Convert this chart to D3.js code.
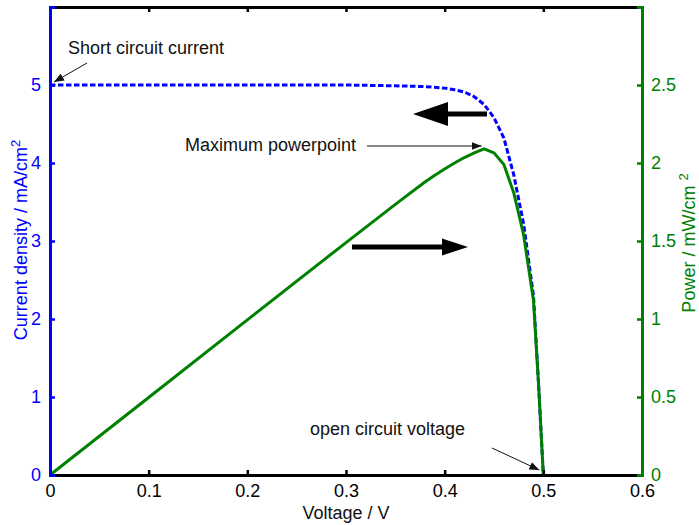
<!DOCTYPE html>
<html>
<head>
<meta charset="utf-8">
<script src="https://cdn.jsdelivr.net/npm/d3@7"></script>
<style>
  html, body { margin: 0; padding: 0; background: #fff; }
  svg { display: block; font-family: "Liberation Sans", Arial, Helvetica, sans-serif; }
</style>
</head>
<body>
<svg id="chart" width="699" height="525"></svg>
<script>
// Solar cell J-V and P-V characteristics
const voltage = [0, 0.1, 0.2, 0.3, 0.35, 0.38, 0.39, 0.4, 0.41, 0.42, 0.43, 0.44, 0.45, 0.46, 0.47, 0.48, 0.49, 0.495, 0.5];
const currentDensity = [5.0, 5.0, 5.0, 5.0, 4.99, 4.98, 4.97, 4.96, 4.94, 4.91, 4.85, 4.75, 4.58, 4.32, 3.85, 3.22, 2.3, 1.2, 0];
const power = [0, 0.497, 0.994, 1.49, 1.735, 1.878, 1.922, 1.962, 2.0, 2.035, 2.065, 2.09, 2.065, 1.99, 1.81, 1.54, 1.12, 0.6, 0];

const xTicks = [0, 0.1, 0.2, 0.3, 0.4, 0.5, 0.6];
const leftTicks = [0, 1, 2, 3, 4, 5];
const rightTicks = [0, 0.5, 1, 1.5, 2, 2.5];

const BLUE = "#0000ff", GREEN = "#008000", INK = "#111";
const FS = 18;
const svg = d3.select("#chart");

const plot = { left: 50, right: 642, top: 7, bottom: 475 };
const x = d3.scaleLinear().domain([0, 0.6]).range([plot.left, plot.right]);
const yL = d3.scaleLinear().domain([0, 6]).range([plot.bottom, plot.top]);
const yR = d3.scaleLinear().domain([0, 3]).range([plot.bottom, plot.top]);

// arrowhead marker for the thin annotation pointers
const defs = svg.append("defs");
defs.append("marker")
  .attr("id", "tip").attr("viewBox", "0 0 10 8").attr("refX", 10).attr("refY", 4)
  .attr("markerWidth", 10).attr("markerHeight", 8).attr("markerUnits", "userSpaceOnUse")
  .attr("orient", "auto")
  .append("path").attr("d", "M0,0 L10,4 L0,8 Z").attr("fill", INK);

// curves
const jLine = d3.line().x((d, i) => x(voltage[i])).y(d => yL(d));
const pLine = d3.line().x((d, i) => x(voltage[i])).y(d => yR(d));

svg.append("path").datum(currentDensity)
  .attr("d", jLine).attr("fill", "none").attr("stroke", BLUE)
  .attr("stroke-width", 3).attr("stroke-dasharray", "5.5,2.5");

svg.append("path").datum(power)
  .attr("d", pLine).attr("fill", "none").attr("stroke", GREEN)
  .attr("stroke-width", 3).attr("stroke-linejoin", "round");

// axes (ticks point inward)
const axBottom = d3.axisBottom(x).tickValues(xTicks).tickSize(-5).tickFormat(d3.format("~g")).tickPadding(9);
const axTop = d3.axisTop(x).tickValues(xTicks).tickSize(-5).tickFormat("");
const axLeft = d3.axisLeft(yL).tickValues(leftTicks).tickSize(-5).tickFormat(d3.format("d")).tickPadding(9);
const axRight = d3.axisRight(yR).tickValues(rightTicks).tickSize(-5).tickFormat(d3.format("~g")).tickPadding(9);

function styleAxis(g, color) {
  g.select(".domain").attr("stroke", color).attr("stroke-width", 3);
  g.selectAll(".tick line").attr("stroke", color).attr("stroke-width", 2.5);
  g.selectAll(".tick text").attr("fill", color).attr("font-size", FS)
    .attr("font-family", "'Liberation Sans', Arial, sans-serif");
}

svg.append("g").attr("transform", `translate(0,${plot.top})`).call(axTop).call(g => styleAxis(g, "#000"));
svg.append("g").attr("transform", `translate(0,${plot.bottom})`).call(axBottom).call(g => styleAxis(g, "#000"));
svg.append("g").attr("transform", `translate(${plot.left},0)`).call(axLeft).call(g => styleAxis(g, BLUE));
svg.append("g").attr("transform", `translate(${plot.right},0)`).call(axRight).call(g => styleAxis(g, GREEN));

// axis titles
svg.append("text").attr("x", x(0.3)).attr("y", 519).attr("text-anchor", "middle")
  .attr("font-size", FS).attr("fill", INK).text("Voltage / V");

const lt = svg.append("text").attr("transform", "translate(27,240) rotate(-90)")
  .attr("text-anchor", "middle").attr("font-size", FS).attr("fill", BLUE);
lt.append("tspan").text("Current density / mA/cm");
lt.append("tspan").attr("dy", -7).attr("font-size", 13).text("2");

const rt = svg.append("text").attr("transform", "translate(695,243) rotate(-90)")
  .attr("text-anchor", "middle").attr("font-size", FS).attr("fill", GREEN);
rt.append("tspan").text("Power / mW/cm ");
rt.append("tspan").attr("dy", -7).attr("font-size", 13).text("2");

// annotations
function note(tx, ty, label, x1, y1, x2, y2) {
  svg.append("text").attr("x", tx).attr("y", ty).attr("font-size", FS).attr("fill", INK).text(label);
  svg.append("line").attr("x1", x1).attr("y1", y1).attr("x2", x2).attr("y2", y2)
    .attr("stroke", INK).attr("stroke-width", 1).attr("marker-end", "url(#tip)");
}
note(68, 54, "Short circuit current", 87, 63, x(0) + 4, yL(5) - 3);
note(185, 151, "Maximum powerpoint", 367, 146, x(0.4375), 146);
note(310, 435, "open circuit voltage", 492, 448, x(0.5) - 4, yR(0) - 5);

// thick direction arrows: current to the left axis, power to the right axis
function bigArrow(xs, xe, y, shaft, headLen, headHalf) {
  const dir = Math.sign(xe - xs);
  const xb = xe - dir * headLen;
  svg.append("line").attr("x1", xs).attr("y1", y).attr("x2", xb).attr("y2", y)
    .attr("stroke", "#000").attr("stroke-width", shaft);
  svg.append("path")
    .attr("d", `M${xe},${y} L${xb},${y - headHalf} L${xb},${y + headHalf} Z`)
    .attr("fill", "#000");
}
bigArrow(487, 413, 114, 5, 35, 12);
bigArrow(352, 468, 247, 5, 26, 8.5);
</script>
</body>
</html>
